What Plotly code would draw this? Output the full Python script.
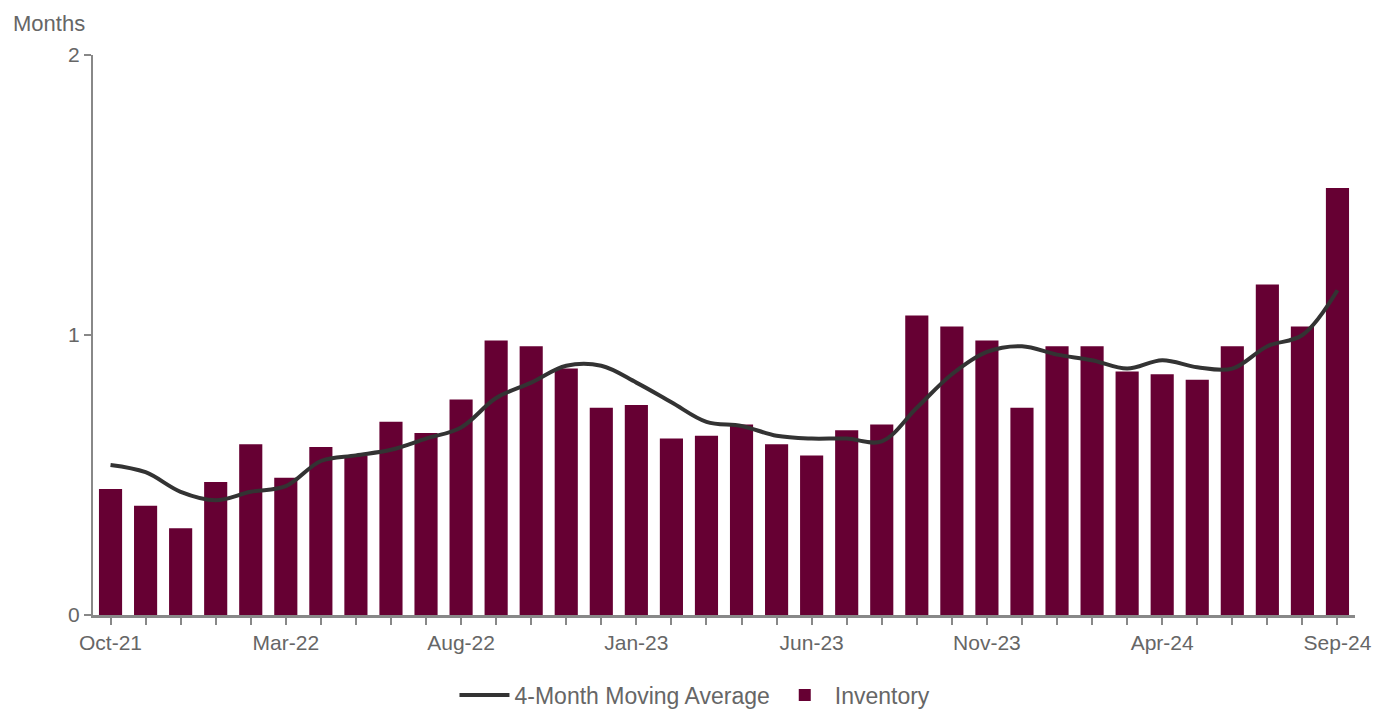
import plotly.graph_objects as go

# Months of inventory, Oct-21 .. Sep-24
MONTHS = [
    "Oct-21", "Nov-21", "Dec-21", "Jan-22", "Feb-22", "Mar-22",
    "Apr-22", "May-22", "Jun-22", "Jul-22", "Aug-22", "Sep-22",
    "Oct-22", "Nov-22", "Dec-22", "Jan-23", "Feb-23", "Mar-23",
    "Apr-23", "May-23", "Jun-23", "Jul-23", "Aug-23", "Sep-23",
    "Oct-23", "Nov-23", "Dec-23", "Jan-24", "Feb-24", "Mar-24",
    "Apr-24", "May-24", "Jun-24", "Jul-24", "Aug-24", "Sep-24",
]
INVENTORY = [
    0.45, 0.39, 0.31, 0.475, 0.61, 0.49,
    0.60, 0.57, 0.69, 0.65, 0.77, 0.98,
    0.96, 0.88, 0.74, 0.75, 0.63, 0.64,
    0.68, 0.61, 0.57, 0.66, 0.68, 1.07,
    1.03, 0.98, 0.74, 0.96, 0.96, 0.87,
    0.86, 0.84, 0.96, 1.18, 1.03, 1.525,
]
MOVING_AVG = [
    0.536, 0.51, 0.44, 0.41, 0.44, 0.46,
    0.55, 0.57, 0.59, 0.63, 0.67, 0.775,
    0.83, 0.89, 0.89, 0.83, 0.76, 0.69,
    0.675, 0.64, 0.63, 0.63, 0.62, 0.74,
    0.86, 0.94, 0.96, 0.93, 0.91, 0.88,
    0.91, 0.885, 0.88, 0.96, 1.0, 1.16,
]
LABELED = {"Oct-21", "Mar-22", "Aug-22", "Jan-23", "Jun-23", "Nov-23", "Apr-24", "Sep-24"}

BAR_COLOR = "#660033"
LINE_COLOR = "#333333"
AXIS_COLOR = "#888888"
TEXT_COLOR = "#666666"
FONT = "Liberation Sans, Arial, sans-serif"

fig = go.Figure()
fig.add_trace(go.Bar(
    x=MONTHS, y=INVENTORY,
    name="Inventory",
    marker=dict(color=BAR_COLOR, line=dict(width=0)),
    width=0.66,
))
fig.add_trace(go.Scatter(
    x=MONTHS, y=MOVING_AVG,
    mode="lines",
    name="4-Month Moving Average",
    line=dict(color=LINE_COLOR, width=4, shape="spline", smoothing=1),
))

# page body adds an 8px offset, so the figure is sized 8px smaller
fig.update_layout(
    width=1379, height=701,
    paper_bgcolor="white", plot_bgcolor="white",
    margin=dict(l=85, r=32, t=47, b=94, autoexpand=False),
    font=dict(family=FONT, size=21, color=TEXT_COLOR),
    showlegend=True,
    legend=dict(
        orientation="h",
        xref="paper", x=0.477, xanchor="center",
        yref="container", y=0.02, yanchor="middle",
        font=dict(size=23, color=TEXT_COLOR),
        traceorder="reversed",
        itemwidth=50,
    ),
)
fig.update_xaxes(
    type="category",
    range=[-0.5, len(MONTHS) - 0.5],
    tickmode="array",
    tickvals=MONTHS,
    ticktext=[m if m in LABELED else "" for m in MONTHS],
    ticks="outside", ticklen=7, tickwidth=1.5, tickcolor=AXIS_COLOR,
    showline=True, linecolor=AXIS_COLOR, linewidth=2.5,
    showgrid=False, zeroline=False,
    tickfont=dict(size=21, color=TEXT_COLOR),
)
fig.update_yaxes(
    range=[0, 2],
    tickvals=[0, 1, 2],
    ticks="outside", ticklen=7, tickwidth=1.5, tickcolor=AXIS_COLOR,
    showline=True, linecolor=AXIS_COLOR, linewidth=2,
    showgrid=False, zeroline=False,
    tickfont=dict(size=21, color=TEXT_COLOR),
)
fig.add_annotation(
    text="Months", xref="paper", yref="paper",
    x=-0.065, y=1.0, yshift=32,
    xanchor="left", yanchor="middle", showarrow=False,
    font=dict(size=22, color=TEXT_COLOR),
)

fig.write_html("out.html")
